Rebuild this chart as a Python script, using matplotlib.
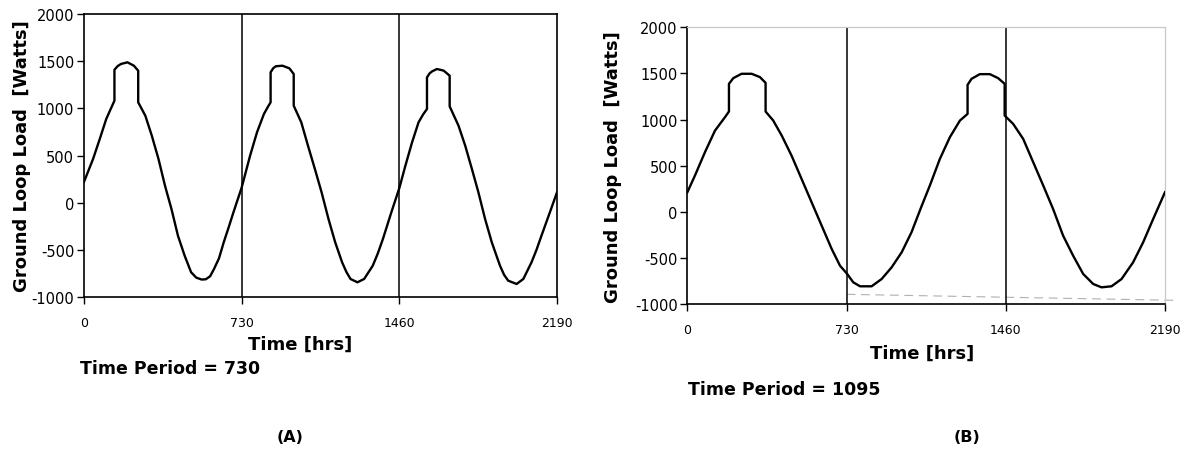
import matplotlib.pyplot as plt

plt.rcParams['font.family'] = ['DejaVu Sans']
plt.rcParams['axes.unicode_minus'] = False

# (A) time period = 730 hrs
time_a = [0, 42, 73, 103, 125, 141, 141, 156, 171, 201, 231, 251, 251, 284, 314, 345, 375, 405,
          435, 466, 496, 520, 545, 564, 584, 602, 625, 647, 670, 692, 730,
          769, 801, 833, 850, 864, 864, 876, 888, 919, 951, 971, 971, 1006, 1037, 1069, 1100,
          1132, 1163, 1195, 1215, 1234, 1266, 1297, 1337, 1360, 1384, 1423, 1460,
          1488, 1519, 1549, 1570, 1588, 1588, 1600, 1611, 1634, 1665, 1693, 1693, 1734, 1765,
          1796, 1826, 1857, 1888, 1926, 1945, 1964, 2003, 2034, 2072, 2095, 2118, 2157, 2190]
load_a = [220, 463, 675, 887, 1000, 1081, 1409, 1448, 1470, 1488, 1452, 1399, 1064, 922, 710, 463, 180, -67,
          -350, -562, -738, -795, -815, -812, -780, -703, -590, -420, -260, -102, 160,
          498, 746, 940, 1010, 1064, 1382, 1425, 1446, 1452, 1424, 1364, 1028, 852, 604, 357, 110,
          -173, -420, -632, -735, -809, -844, -809, -668, -540, -385, -102, 155,
          392, 640, 852, 935, 993, 1328, 1370, 1391, 1417, 1400, 1346, 1021, 816, 604,
          357, 110, -173, -420, -668, -765, -827, -862, -809, -632, -500, -350, -102, 110]

# (B) time period = 1095 hrs
time_b = [0, 35, 81, 127, 173, 191, 191, 211, 249, 295, 333, 359, 359, 394, 433, 478,
          524, 570, 616, 662, 700, 733, 761, 792, 845, 891, 937, 983, 1028, 1074,
          1112, 1158, 1204, 1250, 1285, 1285, 1303, 1341, 1387, 1425, 1455, 1455,
          1494, 1540, 1586, 1632, 1677, 1723, 1769, 1815, 1861, 1899, 1945, 1991,
          2044, 2090, 2136, 2190]
load_b = [210, 392, 646, 880, 1026, 1087, 1387, 1449, 1496, 1496, 1460, 1398, 1087, 989, 826, 609,
          356, 103, -150, -403, -584, -674, -765, -808, -808, -729, -602, -439, -222, 60,
          284, 573, 809, 989, 1061, 1376, 1441, 1492, 1492, 1449, 1387, 1043,
          953, 790, 537, 284, 31, -259, -476, -674, -783, -819, -808, -729,
          -548, -331, -78, 212]

period_marks = [730, 1460]
x_ticks = [0, 730, 1460, 2190]
y_ticks = [-1000, -500, 0, 500, 1000, 1500, 2000]
dash_x = [730, 2235]
dash_y = [-895, -960]

fig = plt.figure(figsize=(11.93, 4.52), dpi=100)
ax_a = fig.add_axes([0.0704, 0.3407, 0.3965, 0.6261])
ax_b = fig.add_axes([0.5761, 0.3252, 0.4004, 0.6122])

for ax, t, q in [(ax_a, time_a, load_a), (ax_b, time_b, load_b)]:
    ax.plot(t, q, color='black', lw=1.7, zorder=3)
    for m in period_marks:
        ax.axvline(m, color='black', lw=1.1, zorder=2)
    ax.set_xlim(0, 2190)
    ax.set_ylim(-1000, 2000)
    ax.set_xticks(x_ticks)
    ax.set_yticks(y_ticks)
    ax.tick_params(axis='y', direction='out', length=5, width=1.0, pad=2, labelsize=10.5)
    ax.tick_params(axis='x', direction='out', length=5, width=1.0, pad=9, labelsize=9)
    for s in ax.spines.values():
        s.set_linewidth(1.2)
    ax.set_ylabel('Ground Loop Load  [Watts]', fontsize=13, fontweight='bold')

ax_a.yaxis.set_label_coords(-0.112, 0.5)
ax_b.yaxis.set_label_coords(-0.137, 0.5)

# light border and faint dashed line on panel B
ax_b.spines['top'].set_color('#c8c8c8')
ax_b.spines['right'].set_color('#c8c8c8')
ax_b.spines['top'].set_linewidth(0.9)
ax_b.spines['right'].set_linewidth(0.9)
ax_b.plot(dash_x, dash_y, color='#b0b0b0', lw=0.8, ls=(0, (8, 5)), clip_on=False, zorder=1)

fig.text(300 / 1193, 1 - 345 / 452, 'Time [hrs]', fontsize=13, fontweight='bold', ha='center', va='center')
fig.text(80 / 1193, 1 - 369 / 452, 'Time Period = 730', fontsize=12.5, fontweight='bold', ha='left', va='center')
fig.text(290 / 1193, 1 - 438 / 452, '(A)', fontsize=11.5, fontweight='bold', ha='center', va='center')

fig.text(922 / 1193, 1 - 354 / 452, 'Time [hrs]', fontsize=13, fontweight='bold', ha='center', va='center')
fig.text(688 / 1193, 1 - 390 / 452, 'Time Period = 1095', fontsize=12.5, fontweight='bold', ha='left', va='center')
fig.text(967 / 1193, 1 - 438 / 452, '(B)', fontsize=11.5, fontweight='bold', ha='center', va='center')

fig.savefig('out.png', dpi=100)
